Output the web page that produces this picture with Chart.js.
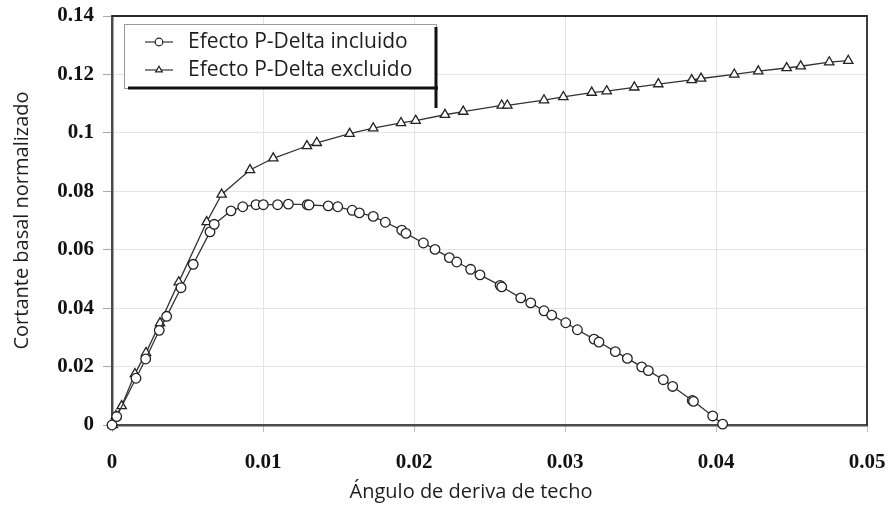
<!DOCTYPE html>
<html>
<head>
<meta charset="utf-8">
<script src="https://cdn.jsdelivr.net/npm/chart.js@4.4.0/dist/chart.umd.min.js"></script>
<style>
  html, body { margin: 0; padding: 0; background: #fff; }
  #wrap { width: 893px; height: 508px; }
</style>
</head>
<body>
<div id="wrap"><canvas id="c" width="893" height="508"></canvas></div>
<script>
// Roof drift angle (x) vs. normalized base shear (y)
const seriesNames = ['Efecto P-Delta incluido', 'Efecto P-Delta excluido'];

const driftIncl = [0, 0.00031, 0.00159, 0.00223, 0.00313, 0.00362, 0.00457, 0.00538, 0.00649, 0.00677,
  0.00788, 0.00866, 0.00954, 0.01002, 0.01097, 0.01168, 0.01293, 0.01305, 0.01432, 0.01495,
  0.01591, 0.01638, 0.01730, 0.01810, 0.01919, 0.01947, 0.02062, 0.02139, 0.02234, 0.02283,
  0.02375, 0.02437, 0.02570, 0.02581, 0.02707, 0.02773, 0.02861, 0.02912, 0.03005, 0.03082,
  0.03192, 0.03225, 0.03333, 0.03413, 0.03508, 0.03552, 0.03651, 0.03713, 0.03843, 0.03851,
  0.03978, 0.04044];
const shearIncl = [0, 0.0029, 0.0160, 0.0226, 0.0324, 0.0372, 0.0470, 0.0550, 0.0661, 0.0687,
  0.0733, 0.0747, 0.0754, 0.0754, 0.0754, 0.0756, 0.0754, 0.0753, 0.0750, 0.0747,
  0.0735, 0.0726, 0.0714, 0.0694, 0.0667, 0.0656, 0.0623, 0.0601, 0.0573, 0.0558,
  0.0533, 0.0514, 0.0478, 0.0473, 0.0435, 0.0418, 0.0391, 0.0376, 0.0350, 0.0326,
  0.0294, 0.0284, 0.0251, 0.0228, 0.0199, 0.0186, 0.0155, 0.0132, 0.0084, 0.0081,
  0.0031, 0.0003];

const driftExcl = [0.00005, 0.00026, 0.00064, 0.00152, 0.00225, 0.00318, 0.00442, 0.00627, 0.00726, 0.00914,
  0.01068, 0.01291, 0.01356, 0.01574, 0.01730, 0.01914, 0.02011, 0.02205, 0.02326, 0.02581,
  0.02618, 0.02861, 0.02989, 0.03177, 0.03276, 0.03459, 0.03618, 0.03839, 0.03901, 0.04121,
  0.04280, 0.04468, 0.04561, 0.04750, 0.04876];
const shearExcl = [0, 0.0031, 0.0065, 0.0175, 0.0247, 0.0349, 0.0489, 0.0695, 0.0789, 0.0873,
  0.0913, 0.0955, 0.0966, 0.0997, 0.1016, 0.1034, 0.1042, 0.1062, 0.1073, 0.1094,
  0.1094, 0.1112, 0.1123, 0.1138, 0.1143, 0.1156, 0.1167, 0.1181, 0.1186, 0.1200,
  0.1211, 0.1222, 0.1228, 0.1242, 0.1247];

const xTicks = [0, 0.01, 0.02, 0.03, 0.04, 0.05];
const yTicks = [0, 0.02, 0.04, 0.06, 0.08, 0.1, 0.12, 0.14];

const xTitle = 'Ángulo de deriva de techo';
const yTitle = 'Cortante basal normalizado';

const toPoints = (xs, ys) => xs.map((x, i) => ({ x: x, y: ys[i] }));

const tickFont = { family: '"Liberation Serif", "Times New Roman", serif', size: 21, weight: 'bold' };
const titleFont = { family: '"Open Sans", "Noto Sans", sans-serif', size: 20 };

// Top and right sides of the plot frame
const framePlugin = {
  id: 'frame',
  afterDatasetsDraw(chart) {
    const { ctx, chartArea: a } = chart;
    ctx.save();
    ctx.strokeStyle = '#2a2a2a';
    ctx.lineWidth = 1.8;
    ctx.beginPath();
    ctx.moveTo(a.left, a.top);
    ctx.lineTo(a.right, a.top);
    ctx.lineTo(a.right, a.bottom);
    ctx.stroke();
    ctx.restore();
  }
};

// Horizontal-axis caption, set a little left of the plot centre
const xCaptionPlugin = {
  id: 'xCaption',
  afterDraw(chart) {
    const { ctx } = chart;
    ctx.save();
    ctx.fillStyle = '#1e1e1e';
    ctx.font = '20px "Open Sans", "Noto Sans", sans-serif';
    ctx.textAlign = 'center';
    ctx.textBaseline = 'middle';
    ctx.fillText(xTitle, 471, 492);
    ctx.restore();
  }
};

// Boxed legend inside the plot area
const boxLegendPlugin = {
  id: 'boxLegend',
  afterDraw(chart) {
    const { ctx } = chart;
    const left = 124, top = 24, right = 436, bottom = 88;
    ctx.save();
    ctx.fillStyle = '#fff';
    ctx.fillRect(left, top, right - left, bottom - top);
    ctx.strokeStyle = '#9a9a9a';
    ctx.lineWidth = 1;
    ctx.strokeRect(left + 0.5, top + 0.5, right - left, bottom - top);
    ctx.strokeStyle = '#111';
    ctx.lineWidth = 3;
    ctx.beginPath();
    ctx.moveTo(128, bottom);
    ctx.lineTo(438, bottom);
    ctx.moveTo(right, top + 3);
    ctx.lineTo(right, 108);
    ctx.stroke();

    const rows = [42, 70];
    chart.data.datasets.forEach((ds, i) => {
      const y = rows[i];
      ctx.strokeStyle = '#333';
      ctx.lineWidth = 1.2;
      ctx.beginPath();
      ctx.moveTo(145, y);
      ctx.lineTo(173, y);
      ctx.stroke();
      ctx.fillStyle = '#fff';
      ctx.strokeStyle = '#222';
      ctx.lineWidth = 1.2;
      Chart.helpers.drawPoint(ctx, { pointStyle: ds.pointStyle, radius: 3.8, rotation: 0, borderWidth: 1.2 }, 159, y);
      ctx.fillStyle = '#1e1e1e';
      ctx.font = '21px "Open Sans", "Noto Sans", sans-serif';
      ctx.textBaseline = 'middle';
      ctx.textAlign = 'left';
      ctx.fillText(ds.label, 188, y);
    });
    ctx.restore();
  }
};

const common = {
  showLine: true,
  borderColor: '#333',
  borderWidth: 1.3,
  pointBackgroundColor: '#fff',
  pointBorderColor: '#222',
  pointBorderWidth: 1.3,
  tension: 0,
  clip: false
};

new Chart(document.getElementById('c'), {
  type: 'scatter',
  data: {
    datasets: [
      Object.assign({}, common, {
        label: seriesNames[0],
        data: toPoints(driftIncl, shearIncl),
        pointStyle: 'circle',
        pointRadius: 4.8
      }),
      Object.assign({}, common, {
        label: seriesNames[1],
        data: toPoints(driftExcl, shearExcl),
        pointStyle: 'triangle',
        pointRadius: 5.4
      })
    ]
  },
  options: {
    responsive: false,
    animation: false,
    layout: { padding: { top: 16, right: 26, left: 0, bottom: 0 } },
    plugins: {
      legend: { display: false },
      tooltip: { enabled: false }
    },
    scales: {
      x: {
        type: 'linear',
        min: 0, max: 0.05,
        afterBuildTicks(scale) { scale.ticks = xTicks.map(v => ({ value: v })); },
        afterFit(scale) { scale.height = 83; scale.paddingLeft = 0; scale.paddingRight = 0; },
        ticks: {
          font: tickFont, color: '#111', padding: 18, maxRotation: 0,
          callback: v => String(+v.toFixed(2))
        },
        grid: { color: '#e4e4e4', lineWidth: 1, tickLength: 7, tickColor: '#bbb' },
        border: { color: '#4a4a4a', width: 2.5 },
        title: { display: false }
      },
      y: {
        type: 'linear',
        min: 0, max: 0.14,
        afterBuildTicks(scale) { scale.ticks = yTicks.map(v => ({ value: v })); },
        afterFit(scale) { scale.width = 112; scale.paddingTop = 0; scale.paddingBottom = 0; },
        ticks: {
          font: tickFont, color: '#111', padding: 9,
          callback: v => String(+v.toFixed(2))
        },
        grid: { color: '#e4e4e4', lineWidth: 1, tickLength: 9, tickColor: '#aaa' },
        border: { color: '#4a4a4a', width: 2.5 },
        title: { display: true, text: yTitle, font: titleFont, color: '#1e1e1e', padding: { top: 10, bottom: 0 } }
      }
    }
  },
  plugins: [framePlugin, xCaptionPlugin, boxLegendPlugin]
});
</script>
</body>
</html>
